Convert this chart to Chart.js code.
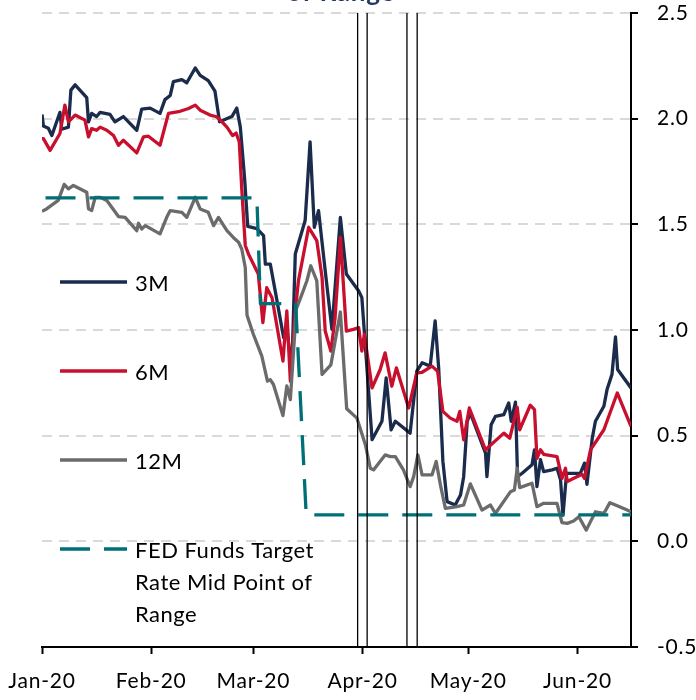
<!DOCTYPE html>
<html>
<head>
  <title>T-Bill Yields vs FED Funds Target</title>
  <script src="https://cdn.jsdelivr.net/npm/chart.js"></script>
  <style>
    body { margin: 0; background: #fff; }
  </style>
</head>
<body>
  <canvas id="yieldChart" width="696" height="700"></canvas>

  <script>
    // x values are days counted from 1 Jan 2020
    const monthTicks = [0, 31, 60, 91, 121, 152];
    const monthLabels = ['Jan-20', 'Feb-20', 'Mar-20', 'Apr-20', 'May-20', 'Jun-20'];
    const yTicks = [-0.5, 0, 0.5, 1, 1.5, 2, 2.5];
    const titleTail = 'of Range';

    const days3m = [0, 0.4, 1.8, 2.8, 5.1, 5.6, 7.5, 8.2, 9.4, 12.7, 13.2, 14.1, 15.5, 16.5, 19.3, 20.7, 23.1, 26.9, 28.3, 30.7,
      33.5, 34.9, 36.4, 37.3, 39.7, 41.1, 43.5, 44.9, 47.2, 49.1, 50.4, 53.9, 55.3, 56.3, 57.5, 58.4, 61.0, 62.9, 63.4, 64.8,
      66.2, 68.6, 69.5, 70.9, 71.9, 74.7, 76.1, 77.3, 78.5, 80.4, 82.3, 84.7, 86.4, 89.9, 90.8, 93.7, 96.5, 97.7, 99.1, 100.3,
      104.5, 106.4, 107.9, 110.2, 111.6, 112.6, 113.8, 115.0, 117.3, 118.8, 119.7, 120.7, 121.6, 125.9, 126.3, 127.5, 128.7, 131.1, 132.5, 133.2,
      134.4, 135.0, 136.3, 139.1, 139.8, 140.5, 141.5, 142.4, 144.8, 146.2, 147.2, 147.9, 148.9, 152.8, 154.0, 154.7, 156.2, 157.1, 159.5, 160.4,
      161.8, 162.8, 163.4, 167.2];
    const yld3m = [2.02, 1.965, 1.955, 1.92, 2.03, 1.95, 1.96, 2.135, 2.16, 2.10, 1.985, 2.025, 2.01, 2.03, 2.02, 1.985, 2.01, 1.945, 2.045, 2.05,
      2.025, 2.09, 2.11, 2.175, 2.185, 2.17, 2.24, 2.205, 2.18, 2.13, 1.985, 2.01, 2.05, 1.96, 1.72, 1.49, 1.48, 1.447, 1.312, 1.312,
      1.185, 0.963, 1.011, 0.805, 1.36, 1.518, 1.89, 1.486, 1.565, 1.28, 1.003, 1.533, 1.265, 1.185, 1.153, 0.481, 0.568, 0.773, 0.528, 0.568,
      0.512, 0.805, 0.845, 0.829, 1.043, 0.821, 0.378, 0.188, 0.172, 0.219, 0.306, 0.568, 0.607, 0.417, 0.306, 0.552, 0.591, 0.60, 0.655, 0.568,
      0.659, 0.306, 0.322, 0.362, 0.433, 0.259, 0.386, 0.33, 0.338, 0.346, 0.291, 0.124, 0.322, 0.322, 0.37, 0.27, 0.488, 0.568, 0.639, 0.718,
      0.79, 0.967, 0.813, 0.726];

    const days6m = [0, 0.4, 2.3, 5.1, 6.5, 7.5, 9.4, 12.2, 13.2, 14.1, 15.5, 16.5, 18.4, 20.3, 21.7, 23.1, 26.9, 28.8, 30.2, 33.5,
      35.9, 39.2, 41.6, 43.5, 44.9, 47.7, 49.6, 51.1, 52.5, 54.1, 55.1, 56.0, 56.7, 57.7, 58.6, 61.4, 62.7, 63.8, 65.3, 68.4,
      69.5, 70.5, 71.9, 72.8, 75.7, 78.0, 79.5, 80.4, 82.0, 83.2, 84.7, 86.4, 88.4, 89.9, 90.8, 91.5, 93.7, 96.0, 97.4, 99.3,
      100.6, 104.1, 106.4, 107.9, 110.7, 112.3, 113.8, 115.9, 117.8, 118.6, 119.7, 121.3, 125.9, 131.1, 132.8, 134.9, 135.6, 138.6, 139.8, 140.5,
      141.5, 142.4, 146.2, 147.6, 148.6, 149.1, 151.4, 153.3, 154.0, 155.7, 159.5, 163.3, 167.2];
    const yld6m = [1.906, 1.906, 1.85, 1.93, 2.064, 1.985, 2.017, 1.993, 1.914, 1.953, 1.945, 1.96, 1.945, 1.92, 1.874, 1.898, 1.838, 1.914, 1.917, 1.874,
      2.025, 2.035, 2.048, 2.064, 2.04, 2.017, 2.009, 1.985, 1.96, 1.92, 1.932, 1.89, 1.67, 1.40, 1.36, 1.265, 1.035, 1.20, 1.153, 0.853,
      1.09, 0.758, 1.09, 1.233, 1.486, 1.423, 1.248, 0.995, 0.90, 1.058, 1.438, 0.995, 1.003, 1.011, 0.90, 0.98, 0.726, 0.813, 0.892, 0.734,
      0.821, 0.631, 0.797, 0.80, 0.829, 0.805, 0.615, 0.583, 0.568, 0.615, 0.48, 0.631, 0.433, 0.512, 0.488, 0.634, 0.528, 0.644, 0.623, 0.393,
      0.433, 0.412, 0.401, 0.298, 0.346, 0.283, 0.302, 0.317, 0.298, 0.433, 0.528, 0.702, 0.544];

    const days12m = [0, 1.3, 4.6, 6.3, 7.5, 8.9, 12.7, 13.2, 14.1, 15.1, 16.5, 18.4, 19.8, 21.7, 23.6, 26.9, 27.4, 28.3, 29.3, 33.5,
      35.4, 36.4, 39.7, 41.1, 43.5, 44.9, 47.2, 48.7, 50.1, 52.5, 54.3, 55.8, 56.7, 57.7, 58.2, 60.0, 62.4, 64.0, 64.8, 65.7,
      68.4, 69.5, 70.5, 72.2, 73.8, 75.2, 76.3, 78.0, 79.5, 82.0, 84.7, 86.5, 89.4, 91.8, 93.2, 94.1, 97.4, 98.9, 100.3, 102.6,
      104.5, 105.5, 106.7, 107.9, 110.7, 111.9, 113.1, 114.5, 117.8, 119.7, 121.6, 124.9, 127.3, 128.7, 133.0, 134.1, 134.9, 135.6, 139.1, 140.5,
      142.4, 146.2, 147.6, 149.1, 150.9, 152.4, 154.5, 157.1, 159.5, 161.2, 162.8, 166.1, 167.2];
    const yld12m = [1.562, 1.573, 1.613, 1.689, 1.668, 1.684, 1.652, 1.573, 1.565, 1.628, 1.628, 1.613, 1.581, 1.537, 1.533, 1.47, 1.505, 1.478, 1.494, 1.455,
      1.533, 1.565, 1.557, 1.533, 1.628, 1.573, 1.557, 1.494, 1.533, 1.47, 1.438, 1.415, 1.383, 1.296, 1.07, 0.98, 0.876, 0.758, 0.765, 0.742,
      0.595, 0.735, 0.671, 1.10, 1.17, 1.233, 1.304, 1.233, 0.79, 0.835, 1.085, 0.627, 0.583, 0.457, 0.346, 0.338, 0.409, 0.401, 0.401, 0.338,
      0.259, 0.306, 0.409, 0.314, 0.314, 0.378, 0.267, 0.156, 0.164, 0.172, 0.272, 0.148, 0.172, 0.132, 0.235, 0.243, 0.346, 0.254, 0.275, 0.164,
      0.18, 0.18, 0.089, 0.085, 0.096, 0.116, 0.053, 0.14, 0.132, 0.183, 0.172, 0.148, 0.14];

    const fedDays = [1, 61, 62, 72, 75, 167.2];
    const fedMid = [1.625, 1.625, 1.125, 1.125, 0.125, 0.125];

    // the thin black double lines
    const markerDays = [89.6, 92.3, 103.6, 106.5];

    const pts = (xs, ys) => xs.map((x, i) => ({ x: x, y: ys[i] }));

    function wrapText(ctx, text, maxWidth) {
      const words = text.split(' ');
      const lines = [];
      let line = '';
      words.forEach(w => {
        const test = line ? line + ' ' + w : w;
        if (ctx.measureText(test).width > maxWidth && line) {
          lines.push(line);
          line = w;
        } else {
          line = test;
        }
      });
      lines.push(line);
      return lines;
    }

    // legend sits inside the plot, on the left
    const insideLegend = {
      id: 'insideLegend',
      afterDraw(chart) {
        const ctx = chart.ctx;
        const rows = [282, 371, 460, 549];
        ctx.save();
        ctx.font = '22px Lato';
        ctx.letterSpacing = '0.5px';
        ctx.fillStyle = '#000';
        ctx.textBaseline = 'middle';
        ctx.textAlign = 'left';
        let n = 0;
        chart.data.datasets.forEach(ds => {
          if (ds.isMarker) return;
          const y = rows[n++];
          ctx.strokeStyle = ds.borderColor;
          ctx.lineWidth = 3.3;
          ctx.setLineDash(ds.borderDash || []);
          ctx.beginPath();
          ctx.moveTo(60, y);
          ctx.lineTo(127, y);
          ctx.stroke();
          ctx.setLineDash([]);
          wrapText(ctx, ds.label, 200).forEach((line, k) => {
            ctx.fillText(line, 135, y + 2 + k * 32);
          });
        });
        ctx.restore();
      }
    };

    // the chart title is cut off at the top edge, only its bottom shows
    const cutTitle = {
      id: 'cutTitle',
      beforeDraw(chart) {
        chart.ctx.letterSpacing = '0.8px';
      },
      afterDraw(chart) {
        const ctx = chart.ctx;
        ctx.save();
        ctx.font = 'bold 26px Lato';
        ctx.fillStyle = '#1f3864';
        ctx.textAlign = 'center';
        ctx.textBaseline = 'alphabetic';
        ctx.fillText(titleTail, 341, 1);
        ctx.restore();
      }
    };

    // keep the plot box where the reference has it
    function noOverhang(scale) {
      scale.paddingTop = 0;
      scale.paddingBottom = 0;
      scale.paddingLeft = 0;
      scale.paddingRight = 0;
    }

    Chart.defaults.font.family = 'Lato';
    Chart.defaults.font.size = 21;
    Chart.defaults.color = '#000';

    const datasets = [];
    markerDays.forEach(d => {
      datasets.push({
        label: '',
        isMarker: true,
        data: [{ x: d, y: -0.5 }, { x: d, y: 2.5 }],
        borderColor: '#000',
        borderWidth: 1.3,
        order: 0
      });
    });
    datasets.push(
      { label: '3M', data: pts(days3m, yld3m), borderColor: '#1a2b4c', borderWidth: 3.3, order: 4 },
      { label: '6M', data: pts(days6m, yld6m), borderColor: '#c8102e', borderWidth: 3.3, order: 3 },
      { label: '12M', data: pts(days12m, yld12m), borderColor: '#6b6b6b', borderWidth: 3.3, order: 2 },
      { label: 'FED Funds Target Rate Mid Point of Range', data: pts(fedDays, fedMid), borderColor: '#007078',
        borderWidth: 3.3, borderDash: [30, 14], order: 1 }
    );

    new Chart(document.getElementById('yieldChart'), {
      type: 'line',
      data: { datasets: datasets },
      options: {
        responsive: false,
        animation: false,
        layout: { padding: { left: 42, top: 13, right: 0, bottom: 0 } },
        elements: {
          point: { radius: 0 },
          line: { tension: 0, borderJoinStyle: 'round', fill: false }
        },
        plugins: {
          legend: { display: false },
          title: { display: false },
          tooltip: { enabled: false }
        },
        scales: {
          x: {
            type: 'linear',
            min: 0,
            max: 167.2,
            afterBuildTicks: scale => { scale.ticks = monthTicks.map(v => ({ value: v })); },
            afterFit: scale => { scale.height = 53; noOverhang(scale); },
            ticks: {
              autoSkip: false,
              maxRotation: 0,
              padding: 15,
              callback: v => monthLabels[monthTicks.indexOf(v)]
            },
            grid: { drawOnChartArea: false, drawTicks: true, tickLength: 7, tickColor: '#000', tickWidth: 2 },
            border: { color: '#000', width: 2 }
          },
          y: {
            position: 'right',
            min: -0.5,
            max: 2.5,
            afterBuildTicks: scale => { scale.ticks = yTicks.map(v => ({ value: v })); },
            afterFit: scale => { scale.width = 65; noOverhang(scale); },
            ticks: {
              padding: 19,
              callback: v => v.toFixed(1)
            },
            grid: { color: '#d9d9d9', lineWidth: 2, tickLength: 7, tickColor: '#000', tickWidth: 2 },
            border: { color: '#000', width: 2, dash: [10, 7] }
          }
        }
      },
      plugins: [insideLegend, cutTitle]
    });
  </script>
</body>
</html>
